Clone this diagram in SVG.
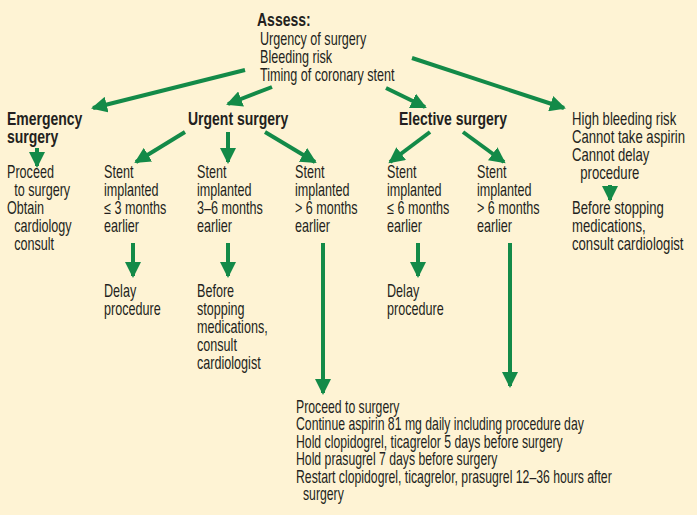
<svg xmlns="http://www.w3.org/2000/svg" width="697" height="515" viewBox="0 0 697 515">
<style>
text{font-family:"Liberation Sans",Arial,sans-serif;font-size:17.5px;fill:#231f20}
.b{font-weight:bold}
.c line{stroke:#138a48;stroke-width:4;marker-end:url(#ah)}
</style>
<defs><marker id="ah" markerUnits="userSpaceOnUse" markerWidth="18" markerHeight="16" refX="14" refY="8" orient="auto"><path d="M0,0 L16,8 L0,16 Z" fill="#138a48"/></marker></defs>
<rect width="697" height="515" fill="#fef3d4"/>
<g class="c" id="connectors">
<line x1="245" y1="70" x2="93" y2="108"/>
<line x1="272" y1="87" x2="228" y2="104"/>
<line x1="412" y1="58" x2="564" y2="108"/>
<line x1="386" y1="88" x2="425" y2="107"/>
<line x1="37" y1="148" x2="37" y2="166"/>
<line x1="185" y1="132" x2="136" y2="162"/>
<line x1="228" y1="132" x2="228" y2="162"/>
<line x1="265" y1="132" x2="315" y2="162"/>
<line x1="430" y1="132" x2="390" y2="162"/>
<line x1="463" y1="132" x2="504" y2="162"/>
<line x1="133" y1="243" x2="133" y2="276"/>
<line x1="228" y1="243" x2="228" y2="276"/>
<line x1="418" y1="243" x2="418" y2="276"/>
<line x1="323" y1="243" x2="323" y2="393"/>
<line x1="510" y1="243" x2="510" y2="386"/>
<line x1="610" y1="185" x2="610" y2="200"/>
</g>
<g id="assess"><text class="b" transform="translate(257,26) scale(0.8,1)">Assess:</text><text transform="translate(260,45) scale(0.72,1)"><tspan x="0">Urgency of surgery</tspan><tspan x="0" y="18">Bleeding risk</tspan><tspan x="0" y="36">Timing of coronary stent</tspan></text></g>
<g id="emergency"><text class="b" transform="translate(7,125) scale(0.8,1)"><tspan x="0">Emergency</tspan><tspan x="0" y="18">surgery</tspan></text></g>
<g id="emergency-action"><text transform="translate(7,178) scale(0.72,1)"><tspan x="0">Proceed</tspan><tspan x="10" y="18">to surgery</tspan><tspan x="0" y="36">Obtain</tspan><tspan x="10" y="54">cardiology</tspan><tspan x="10" y="72">consult</tspan></text></g>
<g id="urgent"><text class="b" transform="translate(188,125) scale(0.8,1)">Urgent surgery</text></g>
<g id="u1"><text transform="translate(104,178) scale(0.72,1)"><tspan x="0">Stent</tspan><tspan x="0" y="18">implanted</tspan><tspan x="0" y="36">≤ 3 months</tspan><tspan x="0" y="54">earlier</tspan></text></g>
<g id="u2"><text transform="translate(197,178) scale(0.72,1)"><tspan x="0">Stent</tspan><tspan x="0" y="18">implanted</tspan><tspan x="0" y="36">3–6 months</tspan><tspan x="0" y="54">earlier</tspan></text></g>
<g id="u3"><text transform="translate(295,178) scale(0.72,1)"><tspan x="0">Stent</tspan><tspan x="0" y="18">implanted</tspan><tspan x="0" y="36">&gt; 6 months</tspan><tspan x="0" y="54">earlier</tspan></text></g>
<g id="delay1"><text transform="translate(104,297) scale(0.72,1)"><tspan x="0">Delay</tspan><tspan x="0" y="18">procedure</tspan></text></g>
<g id="before1"><text transform="translate(197,297) scale(0.72,1)"><tspan x="0">Before</tspan><tspan x="0" y="18">stopping</tspan><tspan x="0" y="36">medications,</tspan><tspan x="0" y="54">consult</tspan><tspan x="0" y="72">cardiologist</tspan></text></g>
<g id="elective"><text class="b" transform="translate(399,125) scale(0.8,1)">Elective surgery</text></g>
<g id="e1"><text transform="translate(387,178) scale(0.72,1)"><tspan x="0">Stent</tspan><tspan x="0" y="18">implanted</tspan><tspan x="0" y="36">≤ 6 months</tspan><tspan x="0" y="54">earlier</tspan></text></g>
<g id="e2"><text transform="translate(477,178) scale(0.72,1)"><tspan x="0">Stent</tspan><tspan x="0" y="18">implanted</tspan><tspan x="0" y="36">&gt; 6 months</tspan><tspan x="0" y="54">earlier</tspan></text></g>
<g id="delay2"><text transform="translate(387,297) scale(0.72,1)"><tspan x="0">Delay</tspan><tspan x="0" y="18">procedure</tspan></text></g>
<g id="high"><text transform="translate(572,125) scale(0.75,1)"><tspan x="0">High bleeding risk</tspan><tspan x="0" y="18">Cannot take aspirin</tspan><tspan x="0" y="36">Cannot delay</tspan><tspan x="11" y="54">procedure</tspan></text></g>
<g id="before2"><text transform="translate(572,214) scale(0.75,1)"><tspan x="0">Before stopping</tspan><tspan x="0" y="18">medications,</tspan><tspan x="0" y="36">consult cardiologist</tspan></text></g>
<g id="proceed"><text transform="translate(296,413) scale(0.7,1)"><tspan x="0">Proceed to surgery</tspan><tspan x="0" y="17.5">Continue aspirin 81 mg daily including procedure day</tspan><tspan x="0" y="35">Hold clopidogrel, ticagrelor 5 days before surgery</tspan><tspan x="0" y="52.5">Hold prasugrel 7 days before surgery</tspan><tspan x="0" y="70">Restart clopidogrel, ticagrelor, prasugrel 12–36 hours after</tspan><tspan x="10" y="87.5">surgery</tspan></text></g>
</svg>
